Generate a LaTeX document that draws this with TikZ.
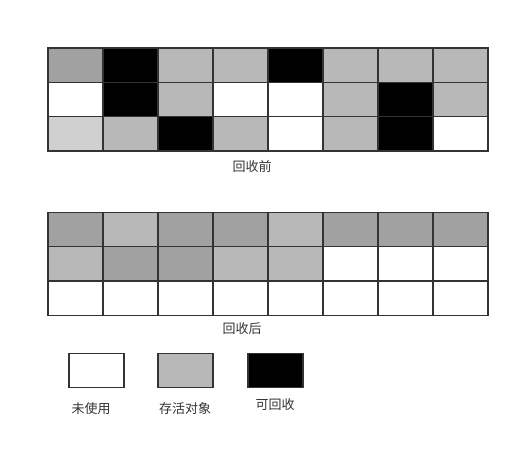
\documentclass[tikz,border=0pt]{standalone}
\usepackage{fontspec}
\setmainfont{Noto Sans CJK SC}
\usetikzlibrary{positioning}
\definecolor{edge}{HTML}{333333}
\definecolor{gd}{HTML}{A1A1A1}
\definecolor{gl}{HTML}{B8B8B8}
\definecolor{gp}{HTML}{D0D0D0}
\definecolor{gk}{HTML}{000000}
\definecolor{gw}{HTML}{FFFFFF}
\tikzset{
  cell/.style={draw=edge,line width=1.3pt,minimum width=55pt,minimum height=34.3pt,inner sep=0pt,outer sep=0pt},
  lab/.style={font=\fontsize{13}{15}\selectfont,text=edge,inner sep=0pt},
}
\begin{document}
\begin{tikzpicture}[x=1pt,y=-1pt]
\useasboundingbox (0,0) rectangle (520,453);
% before collection
\foreach \r/\row in {1/{gd,gk,gl,gl,gk,gl,gl,gl},2/{gw,gk,gl,gw,gw,gl,gk,gl},3/{gp,gl,gk,gl,gw,gl,gk,gw}}
  \foreach \c [count=\i] in \row
    \node[cell,fill=\c] (b\r\i) at ({20.5+55*\i},{30.8+34.3*\r}) {};
\node[lab] (tb) at (252,167) {回收前};
% after collection
\foreach \r/\row in {1/{gd,gl,gd,gd,gl,gd,gd,gd},2/{gl,gd,gd,gl,gl,gw,gw,gw},3/{gw,gw,gw,gw,gw,gw,gw,gw}}
  \foreach \c [count=\i] in \row
    \node[cell,fill=\c] (a\r\i) at ({20.5+55*\i},{195.2+34.3*\r}) {};
\node[lab] (ta) at (242,329) {回收后};
% legend
\node[cell,fill=gw] (kfree) at (96.5,370.5) {};
\node[cell,fill=gl] (klive) at (185.5,370.5) {};
\node[cell,fill=gk] (kdead) at (275.5,370.5) {};
\node[lab] (tfree) at (91,409) {未使用};
\node[lab] (tlive) at (185,409) {存活对象};
\node[lab] (tdead) at (275,405) {可回收};
\end{tikzpicture}
\end{document}
